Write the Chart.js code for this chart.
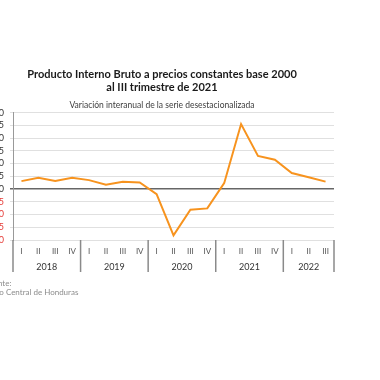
<!DOCTYPE html>
<html>
<head>
<meta charset="utf-8">
<script src="https://cdn.jsdelivr.net/npm/chart.js@4.4.0/dist/chart.umd.min.js"></script>
<style>
html, body { margin:0; padding:0; background:#fff; overflow:hidden; }
#wrap { position:absolute; left:-40px; top:0; width:404px; height:380px; }
</style>
</head>
<body>
<div id="wrap"><canvas id="pibChart"></canvas></div>
<script>
// Data
var quarters = ['I','II','III','IV','I','II','III','IV','I','II','III','IV','I','II','III','IV','I','II','III'];
var years = ['2018','2019','2020','2021','2022'];
var quartersPerYear = [4, 4, 4, 4, 3];
var pibVariation = [3.1, 4.4, 3.2, 4.4, 3.5, 1.7, 2.9, 2.6, -2.0, -18.2, -8.1, -7.6, 2.3, 25.5, 13.0, 11.5, 6.3, 4.6, 2.9];
var yMin = -20, yMax = 30, yStep = 5;

var fontFamily = 'Lato, "DejaVu Sans", sans-serif';

// year separators + year labels + source note
var yearGroups = {
    id: 'yearGroups',
    afterDraw: function(chart) {
        var ctx = chart.ctx;
        var x = chart.scales.x;
        var area = chart.chartArea;
        var half = (x.getPixelForValue(1) - x.getPixelForValue(0)) / 2;
        ctx.save();
        var start = 0;
        ctx.strokeStyle = '#8a8a8a';
        ctx.lineWidth = 1.5;
        ctx.fillStyle = '#333';
        ctx.font = '9px ' + fontFamily;
        ctx.textAlign = 'center';
        ctx.textBaseline = 'middle';
        for (var i = 0; i < years.length; i++) {
            var end = start + quartersPerYear[i] - 1;
            var left = x.getPixelForValue(start) - half;
            var right = x.getPixelForValue(end) + half;
            ctx.beginPath();
            ctx.moveTo(left, area.bottom);
            ctx.lineTo(left, area.bottom + 32);
            if (i === years.length - 1) {
                ctx.moveTo(right, area.bottom);
                ctx.lineTo(right, area.bottom + 32);
            }
            ctx.stroke();
            ctx.fillText(years[i], (left + right) / 2, area.bottom + 27);
            start = end + 1;
        }
        // source
        ctx.textAlign = 'left';
        ctx.fillStyle = '#8c8c8c';
        ctx.font = '8px ' + fontFamily;
        ctx.fillText('Fuente:', 25, area.bottom + 43);
        ctx.fillText('Banco Central de Honduras', 22, area.bottom + 52);
        ctx.restore();
    }
};

new Chart(document.getElementById('pibChart'), {
    type: 'line',
    data: {
        labels: quarters,
        datasets: [{
            data: pibVariation,
            borderColor: '#f7931e',
            borderWidth: 2,
            pointRadius: 0,
            tension: 0,
            fill: false
        }]
    },
    plugins: [yearGroups],
    options: {
        responsive: true,
        maintainAspectRatio: false,
        animation: false,
        layout: { padding: { top: 68, left: 30, right: 30, bottom: 100 } },
        plugins: {
            legend: { display: false },
            tooltip: { enabled: false },
            title: {
                display: true,
                text: ['Producto Interno Bruto a precios constantes base 2000', 'al III trimestre de 2021'],
                color: '#1a1a1a',
                font: { family: fontFamily, size: 11, weight: 'bold', lineHeight: 1.2 },
                padding: { top: 0, bottom: 6 }
            },
            subtitle: {
                display: true,
                text: 'Variación interanual de la serie desestacionalizada',
                color: '#404040',
                font: { family: fontFamily, size: 8.5, lineHeight: 1.2 },
                padding: { top: 0, bottom: 2 }
            }
        },
        scales: {
            x: {
                offset: true,
                grid: { display: false, drawTicks: false },
                border: { display: false },
                ticks: {
                    color: '#555',
                    font: { family: fontFamily, size: 8 },
                    padding: 7,
                    maxRotation: 0,
                    autoSkip: false
                },
                afterFit: function(scale) { scale.height = 40; }
            },
            y: {
                min: yMin,
                max: yMax,
                ticks: {
                    stepSize: yStep,
                    autoSkip: false,
                    padding: 6,
                    font: { family: fontFamily, size: 9 },
                    color: function(c) { return c.tick.value < 0 ? '#e53935' : '#333'; }
                },
                grid: {
                    color: function(c) { return c.tick.value === 0 ? '#666' : '#e0e0e0'; },
                    lineWidth: function(c) { return c.tick.value === 0 ? 1.5 : 1; },
                    tickLength: 3
                },
                border: { display: true, color: '#999' },
                afterFit: function(scale) { scale.width = 23; }
            }
        }
    }
});
</script>
</body>
</html>
